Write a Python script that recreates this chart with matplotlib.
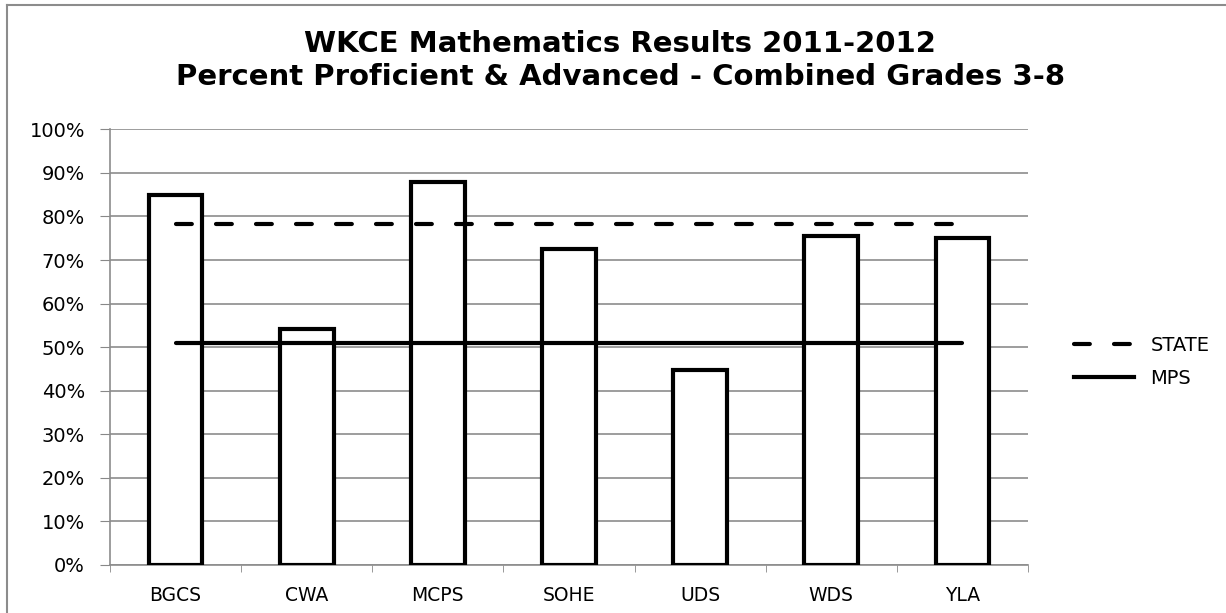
import matplotlib
matplotlib.use("Agg")
import matplotlib.pyplot as plt
from matplotlib.lines import Line2D
import numpy as np

schools = ["BGCS", "CWA", "MCPS", "SOHE", "UDS", "WDS", "YLA"]
proficient = [0.85, 0.542, 0.878, 0.725, 0.448, 0.756, 0.75]
state = [0.783] * 7
mps = [0.51] * 7
yticks = [i / 10 for i in range(11)]
title_lines = ["WKCE Mathematics Results 2011-2012",
               "Percent Proficient & Advanced - Combined Grades 3-8"]

plt.rcParams['font.family'] = ['DejaVu Sans']

fig = plt.figure(figsize=(12.26, 6.13), dpi=100)
ax = fig.add_axes([110/1226, 1-565/613, (1028-110)/1226, (565-129.3)/613])

DASH = (0, (3.8, 5.8))
x = np.arange(len(schools))
ax.bar(x, proficient, width=0.41, color="white", edgecolor="black", linewidth=3, zorder=3)
ax.plot(x, state, color="black", linewidth=3, linestyle=DASH, zorder=4,
        dash_capstyle="round", solid_capstyle="round")
ax.plot(x, mps, color="black", linewidth=3, zorder=4, solid_capstyle="round")

ax.set_xlim(-0.5, len(schools) - 0.5)
ax.set_ylim(0, 1)
ax.set_yticks(yticks)
ax.set_yticklabels([f"{int(round(v*100))}%" for v in yticks], fontsize=14)
ax.set_xticks(x)
ax.set_xticklabels(schools, fontsize=13.5)
ax.set_xticks(np.arange(len(schools) + 1) - 0.5, minor=True)
ax.tick_params(axis="x", which="major", length=0, pad=15)
ax.tick_params(axis="x", which="minor", length=5, color="#888888", direction="out")
ax.tick_params(axis="y", length=7, color="#888888", direction="out", pad=11)
ax.grid(axis="y", color="#8c8c8c", linewidth=1.2, zorder=0)
ax.set_axisbelow(True)
for s in ["top", "right"]:
    ax.spines[s].set_visible(False)
for s in ["left", "bottom"]:
    ax.spines[s].set_color("#8c8c8c")
    ax.spines[s].set_linewidth(1.2)

fig.text(620/1226, 1-52/613, title_lines[0], ha="center", va="baseline",
         fontsize=21, fontweight="bold")
fig.text(620/1226, 1-85/613, title_lines[1], ha="center", va="baseline",
         fontsize=21, fontweight="bold")

handles = [Line2D([0], [0], color="black", lw=3, linestyle=DASH, dash_capstyle="round"),
           Line2D([0], [0], color="black", lw=3)]
fig.legend(handles, ["STATE", "MPS"], loc="center left",
           bbox_to_anchor=(1064/1226, 1-362/613), frameon=False, borderpad=0,
           fontsize=14, handlelength=3.1, handletextpad=0.85, labelspacing=0.75)

# chart area border (top and left)
fig.add_artist(Line2D([7/1226, 7/1226], [0, 1-4.5/613], color="#8c8c8c", lw=1.5,
                      transform=fig.transFigure))
fig.add_artist(Line2D([7/1226, 1], [1-4.5/613, 1-4.5/613], color="#8c8c8c", lw=1.5,
                      transform=fig.transFigure))

fig.savefig("out.png", dpi=100)
